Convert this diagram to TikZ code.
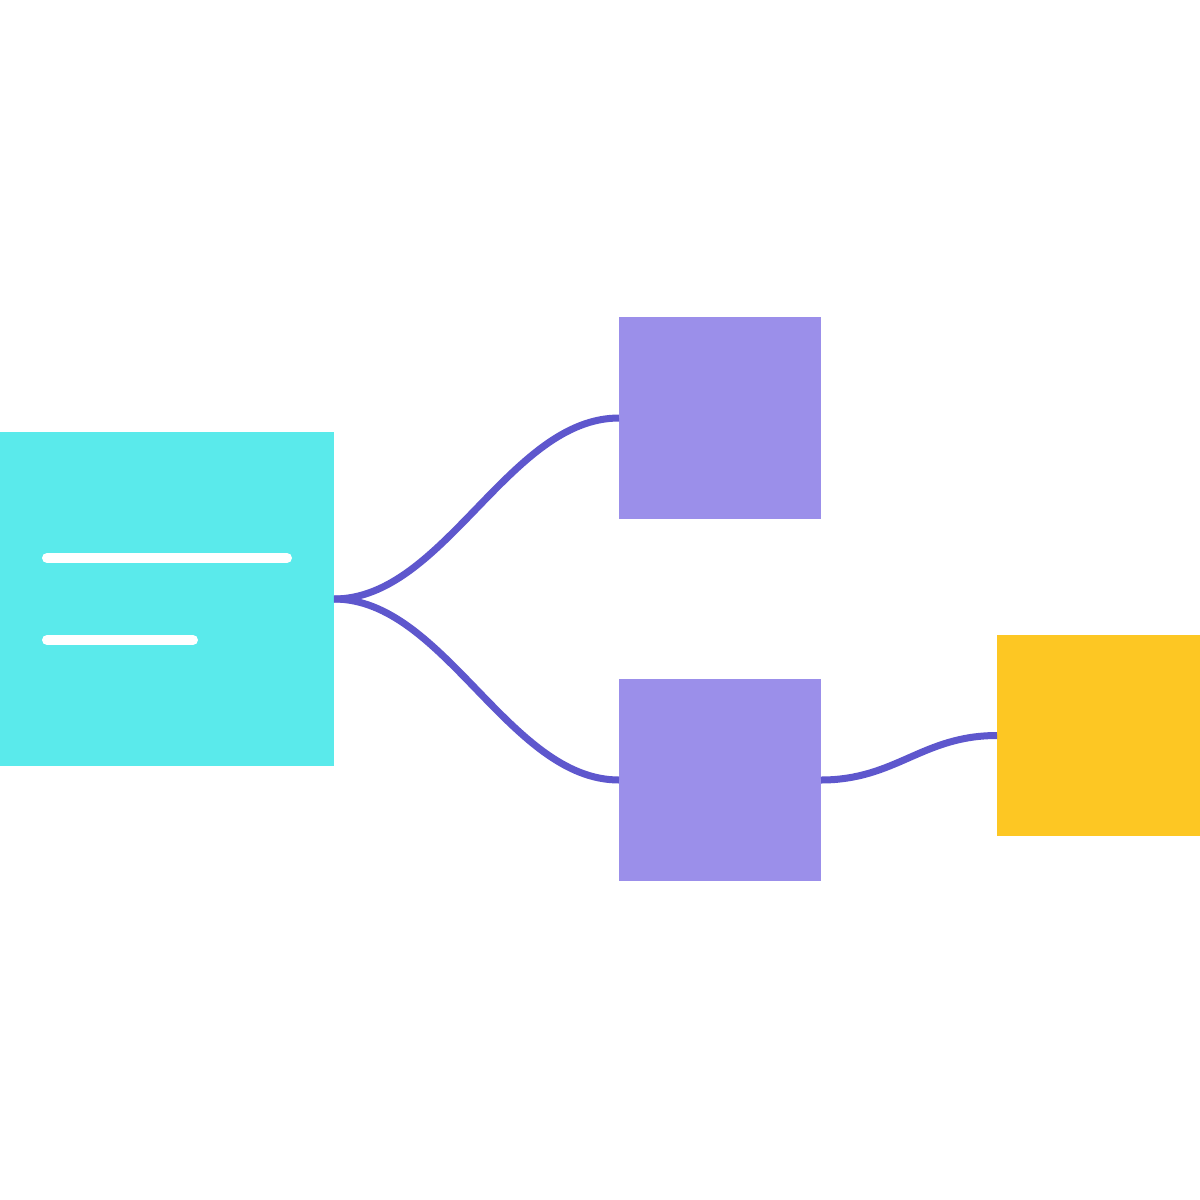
\documentclass[tikz,border=0pt]{standalone}
\definecolor{cyanbox}{HTML}{5AEAEB}
\definecolor{purplebox}{HTML}{9B8FEA}
\definecolor{yellowbox}{HTML}{FDC723}
\definecolor{linkcol}{HTML}{5E57CD}
\begin{document}
\begin{tikzpicture}[x=1pt,y=-1pt,
  box/.style={rectangle,inner sep=0pt,outer sep=0pt,draw=none},
  link/.style={draw=linkcol,line width=7pt},
  textline/.style={draw=white,line width=10pt,line cap=round}]
\useasboundingbox[fill=white] (0,0) rectangle (1200,1200);
\node[box,fill=cyanbox,minimum width=334pt,minimum height=334pt,anchor=north west] (cy) at (0,432) {};
\node[box,fill=purplebox,minimum width=202pt,minimum height=202pt,anchor=north west] (p1) at (619,317) {};
\node[box,fill=purplebox,minimum width=202pt,minimum height=202pt,anchor=north west] (p2) at (619,679) {};
\node[box,fill=yellowbox,minimum width=203pt,minimum height=201pt,anchor=north west] (yb) at (997,635) {};
\coordinate (l1a) at (47,558); \coordinate (l1b) at (287,558);
\coordinate (l2a) at (47,640); \coordinate (l2b) at (193,640);
\draw[textline] (l1a) -- (l1b);
\draw[textline] (l2a) -- (l2b);
\draw[link] (cy.east) .. controls +(110,0) and +(-110,0) .. (p1.west);
\draw[link] (cy.east) .. controls +(110,0) and +(-110,0) .. (p2.west);
\draw[link] (p2.east) .. controls +(75,0) and +(-75,0) .. (yb.west);
\end{tikzpicture}
\end{document}
